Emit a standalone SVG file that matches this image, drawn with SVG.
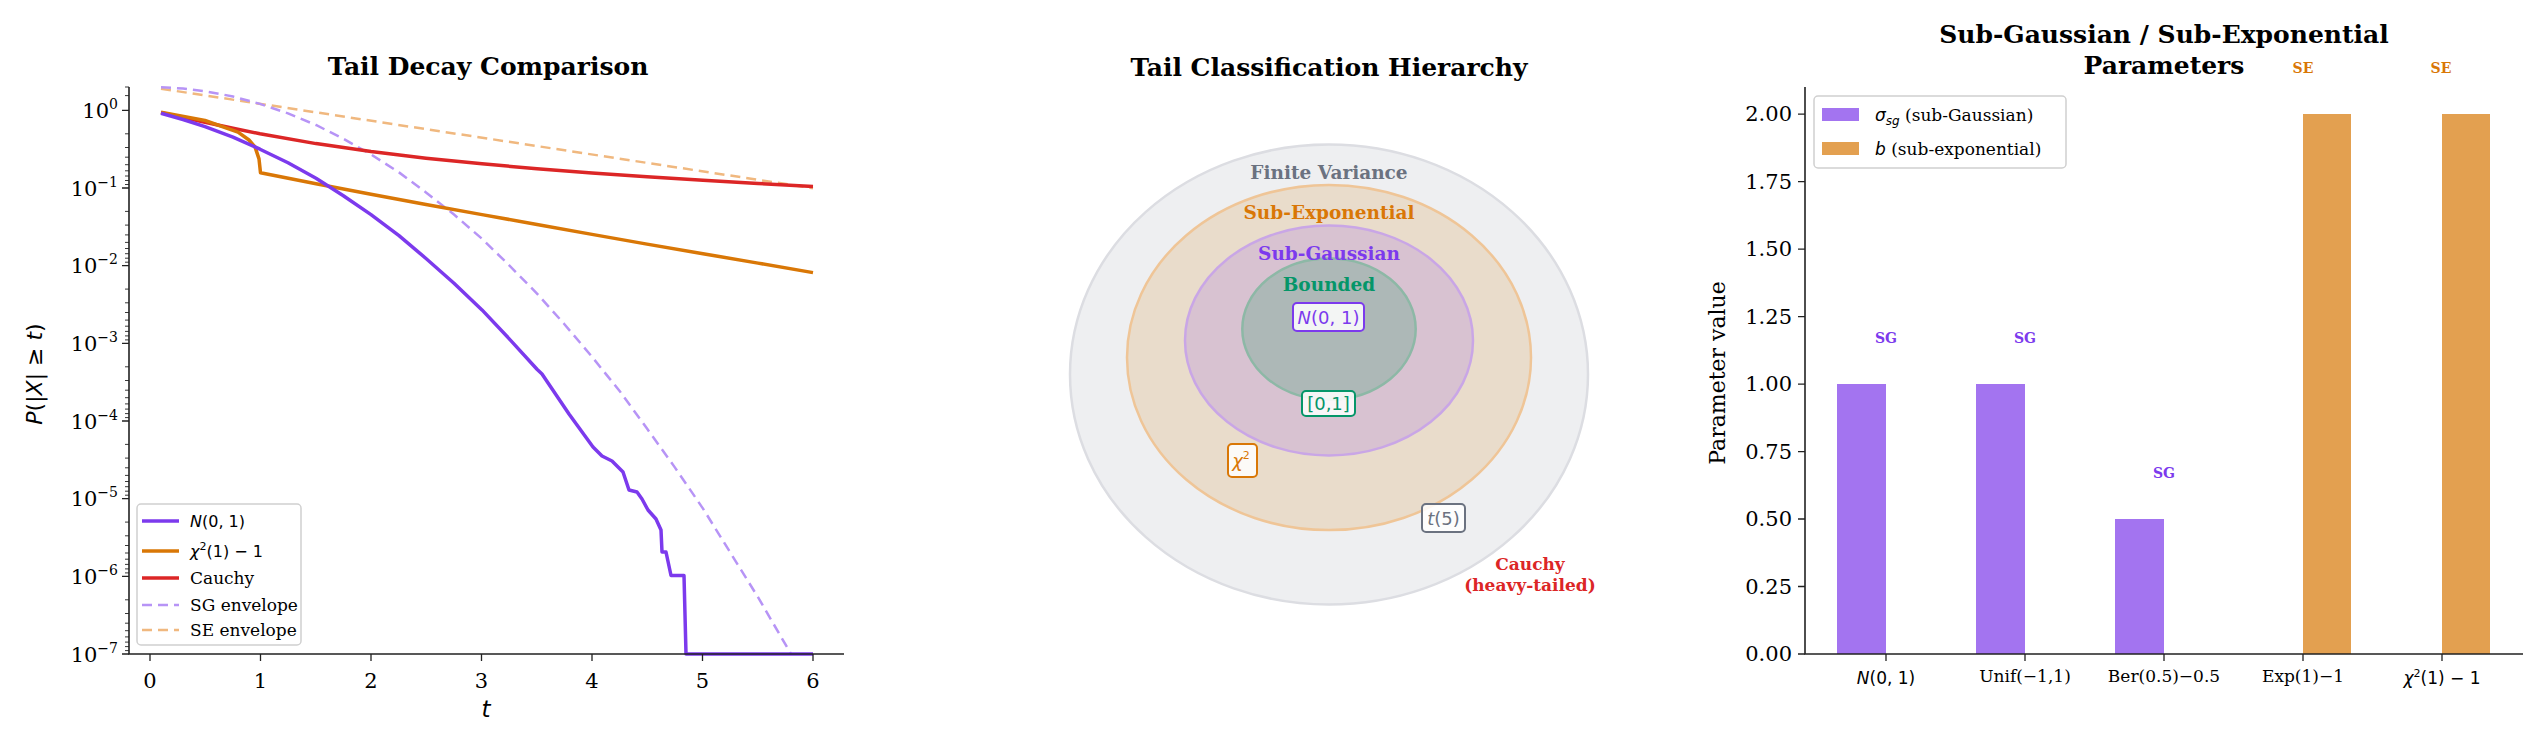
<svg xmlns="http://www.w3.org/2000/svg" width="2545" height="745" viewBox="0 0 2545 745">
<style>
.ser{font-family:"DejaVu Serif","Liberation Serif",serif}
.sans{font-family:"DejaVu Sans","Liberation Sans",sans-serif}
.ttl{font-family:"DejaVu Serif",serif;font-weight:bold;font-size:25px;text-anchor:middle}
.tick{font-family:"DejaVu Serif",serif;font-size:21px}
.ax{stroke:#222;stroke-width:1.6;fill:none}
.tk{stroke:#222;stroke-width:1.3}
.mtk{stroke:#222;stroke-width:0.9}
.ln{fill:none;stroke-width:3.5;stroke-linejoin:round}
.dash{fill:none;stroke-width:2.5;stroke-dasharray:10,6}
.lg{font-family:"DejaVu Serif",serif;font-size:17px}
.cl{font-family:"DejaVu Serif",serif;font-weight:bold;font-size:18.5px;text-anchor:middle}
.bx{fill:#fff;fill-opacity:0.85;stroke-width:2}
.bt{font-family:"DejaVu Sans",sans-serif;font-size:18px;text-anchor:middle}
.sg{font-family:"DejaVu Serif",serif;font-weight:bold;font-size:14px;text-anchor:middle;fill:#7c3aed}
.se{font-family:"DejaVu Serif",serif;font-weight:bold;font-size:14px;text-anchor:middle;fill:#d97706}
</style>
<rect width="2545" height="745" fill="#fff"/>

<!-- LEFT PANEL -->
<g id="left-panel">
<text class="ttl" x="488" y="75">Tail Decay Comparison</text>
<g id="left-curves">
<polyline class="dash" stroke="#f0b87f" points="161,88.7 813,188.2"/>
<polyline class="dash" stroke="#b794f6" points="161,87.2 183,88.6 205,91.2 233,96.5 260,103.9 288,113.4 316,125 343,138.6 371,154.4 399,172.4 426,192.4 454,214.5 482,238.8 509,265.1 537,293.6 564,323.7 592,356.8 620,391.5 647,428.6 675,467.6 703,508.6 730,552.1 758,597.2 791,654"/>
<polyline class="ln" stroke="#dc2626" points="161,112.6 205,122.2 233,128.2 260,133.8 316,143.6 371,151.6 426,158.2 482,163.8 537,168.8 592,173.1 647,176.7 703,180.3 758,183.5 813,186.4"/>
<polyline class="ln" stroke="#d97706" points="161,112.1 205,120.5 238,132.1 249,140 255,146.9 259,158.9 260.5,172.8 316,183.7 371,194.2 426,204.5 482,214.6 537,224.5 592,234.4 647,244.1 703,253.7 758,263.1 813,272.6"/>
<polyline class="ln" stroke="#7c3aed" points="161,113.2 183,119.5 205,126.7 233,137.1 260,149.2 288,162.8 316,178.3 343,195.5 371,214.6 399,235.6 426,258.5 454,283.2 482,309.9 509,338.6 537,369.2 542,374 569,414 593,447 602,456 612,461 623,472 629,490 637,492 642,499 648,510 656,519 661,530 662,552 666,552 671,575.5 684,575.5 686,654 813,654"/>
</g>
<path class="ax" d="M129,87 V654 H844"/>
<g class="tk">
<path d="M150,654v7M260.5,654v7M371,654v7M481.5,654v7M592,654v7M702.5,654v7M813,654v7"/>
<path d="M129,110.4h-7M129,188h-7M129,265.7h-7M129,343.4h-7M129,421h-7M129,498.7h-7M129,576.4h-7M129,654h-7"/>
</g>
<g class="mtk">
<path d="M129,87h-4M129,95.6h-4M129,133.8h-4M129,147.5h-4M129,157.2h-4M129,164.7h-4M129,170.8h-4M129,176h-4M129,180.5h-4M129,184.5h-4M129,211.4h-4M129,225.1h-4M129,234.9h-4M129,242.4h-4M129,248.5h-4M129,253.7h-4M129,258.2h-4M129,262.2h-4M129,289.1h-4M129,302.8h-4M129,312.5h-4M129,320.1h-4M129,326.2h-4M129,331.4h-4M129,335.9h-4M129,339.9h-4M129,366.8h-4M129,380.5h-4M129,390.2h-4M129,397.7h-4M129,403.9h-4M129,409.1h-4M129,413.6h-4M129,417.6h-4M129,444.4h-4M129,458.1h-4M129,467.8h-4M129,475.4h-4M129,481.5h-4M129,486.7h-4M129,491.2h-4M129,495.2h-4M129,522.1h-4M129,535.8h-4M129,545.5h-4M129,553h-4M129,559.2h-4M129,564.4h-4M129,568.9h-4M129,572.9h-4M129,599.8h-4M129,613.5h-4M129,623.2h-4M129,630.7h-4M129,636.9h-4M129,642.1h-4M129,646.6h-4M129,650.6h-4"/>
</g>
<g class="tick" text-anchor="middle">
<text x="150" y="688">0</text><text x="260.5" y="688">1</text><text x="371" y="688">2</text><text x="481.5" y="688">3</text><text x="592" y="688">4</text><text x="702.5" y="688">5</text><text x="813" y="688">6</text>
</g>
<g class="tick" text-anchor="end">
<text x="118" y="118">10<tspan font-size="14" dy="-9">0</tspan></text>
<text x="118" y="196">10<tspan font-size="14" dy="-9">−1</tspan></text>
<text x="118" y="273">10<tspan font-size="14" dy="-9">−2</tspan></text>
<text x="118" y="351">10<tspan font-size="14" dy="-9">−3</tspan></text>
<text x="118" y="429">10<tspan font-size="14" dy="-9">−4</tspan></text>
<text x="118" y="506">10<tspan font-size="14" dy="-9">−5</tspan></text>
<text x="118" y="584">10<tspan font-size="14" dy="-9">−6</tspan></text>
<text x="118" y="662">10<tspan font-size="14" dy="-9">−7</tspan></text>
</g>
<text class="sans" font-size="23" font-style="italic" x="486" y="717" text-anchor="middle">t</text>
<text class="sans" font-size="22" text-anchor="middle" transform="translate(42,374) rotate(-90)"><tspan font-style="italic">P</tspan>(|<tspan font-style="italic">X</tspan>| ≥ <tspan font-style="italic">t</tspan>)</text>
<g id="left-legend">
<rect x="137" y="504" width="164" height="141" rx="4" fill="#fff" fill-opacity="0.85" stroke="#d0d0d0" stroke-width="1.5"/>
<line x1="142" y1="521" x2="179" y2="521" stroke="#7c3aed" stroke-width="3.5"/>
<line x1="142" y1="551" x2="179" y2="551" stroke="#d97706" stroke-width="3.5"/>
<line x1="142" y1="578" x2="179" y2="578" stroke="#dc2626" stroke-width="3.5"/>
<line x1="142" y1="605" x2="179" y2="605" stroke="#b794f6" stroke-width="2.5" stroke-dasharray="10,6"/>
<line x1="142" y1="630" x2="179" y2="630" stroke="#f0b87f" stroke-width="2.5" stroke-dasharray="10,6"/>
<text class="sans" font-size="16" x="190" y="527"><tspan font-style="italic">N</tspan>(0, 1)</text>
<text class="sans" font-size="16" x="190" y="557"><tspan font-style="italic">χ</tspan><tspan font-size="11" dy="-7">2</tspan><tspan dy="7">(1) − 1</tspan></text>
<text class="lg" x="190" y="584">Cauchy</text>
<text class="lg" x="190" y="611">SG envelope</text>
<text class="lg" x="190" y="636">SE envelope</text>
</g>
</g>

<!-- MIDDLE PANEL -->
<g id="middle-panel">
<text class="ttl" x="1329" y="76">Tail Classification Hierarchy</text>
<g id="finite-variance"><ellipse cx="1329" cy="374.5" rx="259" ry="230" fill="#eeeff1" stroke="#dcdde2" stroke-width="2.5"/></g>
<g id="sub-exponential"><ellipse cx="1329" cy="357.5" rx="202" ry="172.6" fill="#e9dccb" stroke="#efc597" stroke-width="2.5"/></g>
<g id="sub-gaussian"><ellipse cx="1329" cy="340.5" rx="144" ry="115" fill="#d8c2d1" stroke="#c9a6e6" stroke-width="2.5"/></g>
<g id="bounded"><ellipse cx="1329" cy="329" rx="86.7" ry="70.6" fill="#adb8b7" stroke="#8db8a6" stroke-width="2.5"/></g>
<text class="cl" x="1329" y="179" fill="#6b7280">Finite Variance</text>
<text class="cl" x="1329" y="219" fill="#d97706">Sub-Exponential</text>
<text class="cl" x="1329" y="259.5" fill="#7c3aed">Sub-Gaussian</text>
<text class="cl" x="1329" y="290.5" fill="#059669">Bounded</text>
<g id="box-normal"><rect class="bx" x="1293" y="303" width="71" height="28" rx="4" stroke="#7c3aed"/><text class="bt" x="1328.5" y="323.5" fill="#7c3aed"><tspan font-style="italic">N</tspan>(0, 1)</text></g>
<g id="box-unif"><rect class="bx" x="1302" y="391" width="53" height="25" rx="4" stroke="#059669"/><text class="bt" x="1328.5" y="410" fill="#059669">[0,1]</text></g>
<g id="box-chi2"><rect class="bx" x="1228" y="444" width="29" height="33" rx="4" stroke="#d97706"/><text class="bt" x="1241" y="467" fill="#d97706"><tspan font-style="italic">χ</tspan><tspan font-size="11" dy="-8">2</tspan></text></g>
<g id="box-t5"><rect class="bx" x="1422" y="504" width="43" height="28" rx="4" stroke="#6b7280"/><text class="bt" x="1443.5" y="524.5" fill="#6b7280"><tspan font-style="italic">t</tspan>(5)</text></g>
<g id="cauchy-label"><text class="ser" font-weight="bold" font-size="17" fill="#dc2626" text-anchor="middle"><tspan x="1530" y="570">Cauchy</tspan><tspan x="1530" y="591">(heavy-tailed)</tspan></text></g>
</g>

<!-- RIGHT PANEL -->
<g id="right-panel">
<text class="ttl"><tspan x="2164" y="43">Sub-Gaussian / Sub-Exponential</tspan><tspan x="2164" y="74">Parameters</tspan></text>
<g id="bars">
<rect x="1837" y="384" width="49" height="270" fill="#a374f0"/>
<rect x="1976" y="384" width="49" height="270" fill="#a374f0"/>
<rect x="2115" y="519" width="49" height="135" fill="#a374f0"/>
<rect x="2303" y="114" width="48" height="540" fill="#e3a050"/>
<rect x="2442" y="114" width="48" height="540" fill="#e3a050"/>
</g>
<text class="sg" x="1886" y="343">SG</text>
<text class="sg" x="2025" y="343">SG</text>
<text class="sg" x="2164" y="478">SG</text>
<text class="se" x="2303" y="73">SE</text>
<text class="se" x="2441" y="73">SE</text>
<path class="ax" d="M1805,87 V654 H2523"/>
<g class="tk">
<path d="M1805,654h-7M1805,586.5h-7M1805,519h-7M1805,451.6h-7M1805,384.1h-7M1805,316.6h-7M1805,249.1h-7M1805,181.7h-7M1805,114.2h-7"/>
<path d="M1886,654v7M2025,654v7M2164,654v7M2303,654v7M2442,654v7"/>
</g>
<g class="tick" text-anchor="end">
<text x="1792" y="661">0.00</text><text x="1792" y="594">0.25</text><text x="1792" y="526">0.50</text><text x="1792" y="459">0.75</text><text x="1792" y="391">1.00</text><text x="1792" y="324">1.25</text><text x="1792" y="256">1.50</text><text x="1792" y="189">1.75</text><text x="1792" y="121">2.00</text>
</g>
<g font-size="17" text-anchor="middle">
<text class="sans" x="1886" y="684"><tspan font-style="italic">N</tspan>(0, 1)</text>
<text class="ser" x="2025" y="682">Unif(−1,1)</text>
<text class="ser" x="2164" y="682">Ber(0.5)−0.5</text>
<text class="ser" x="2303" y="682">Exp(1)−1</text>
<text class="sans" x="2442" y="684"><tspan font-style="italic">χ</tspan><tspan font-size="11" dy="-7">2</tspan><tspan dy="7">(1) − 1</tspan></text>
</g>
<text class="ser" font-size="22" text-anchor="middle" transform="translate(1725,373) rotate(-90)">Parameter value</text>
<g id="right-legend">
<rect x="1814" y="96" width="252" height="72" rx="4" fill="#fff" stroke="#d0d0d0" stroke-width="1.5"/>
<rect x="1822" y="108" width="37" height="13" fill="#a374f0"/>
<rect x="1822" y="142" width="37" height="13" fill="#e3a050"/>
<text class="lg" x="1875" y="121"><tspan class="sans" font-style="italic">σ</tspan><tspan class="sans" font-style="italic" font-size="12" dy="4">sg</tspan><tspan dy="-4"> (sub-Gaussian)</tspan></text>
<text class="lg" x="1875" y="155"><tspan class="sans" font-style="italic">b</tspan> (sub-exponential)</text>
</g>
</g>
</svg>
